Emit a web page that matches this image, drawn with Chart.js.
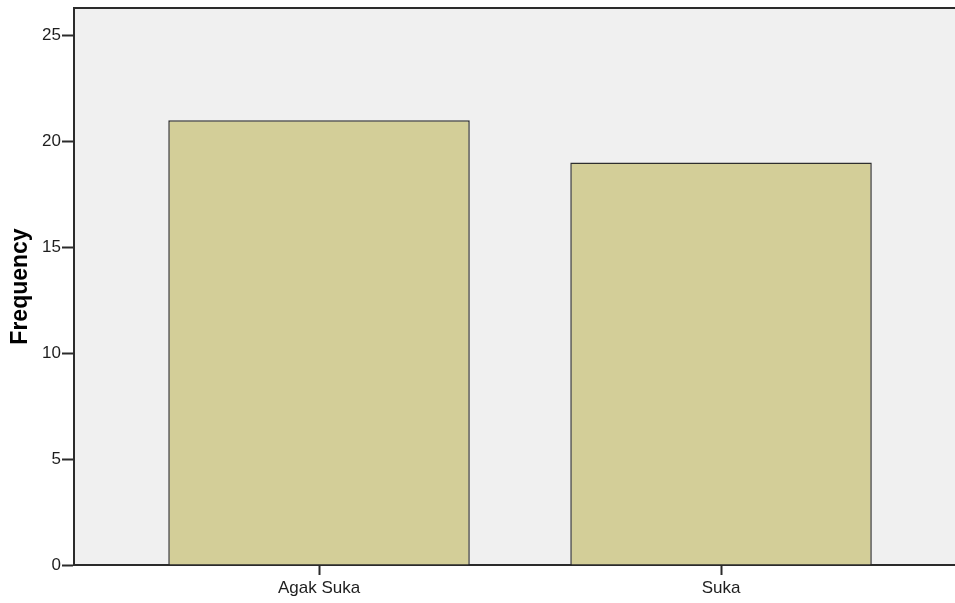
<!DOCTYPE html>
<html>
<head>
<meta charset="utf-8">
<script src="https://cdn.jsdelivr.net/npm/chart.js@4/dist/chart.umd.min.js"></script>
<style>
  html, body { margin: 0; padding: 0; background: #fff; }
  #chart { display: block; }
</style>
</head>
<body>
<canvas id="chart" width="955" height="603"></canvas>
<script>
// Frequency bar chart (SPSS style)
const categories = ["Agak Suka", "Suka"]
const frequencies = [21, 19]
const yTicks = [0, 5, 10, 15, 20, 25]

const axisColor = "#2b2b2b"
const textColor = "#1e1e1e"

// plot background + top frame line
const frame = {
  id: "frame",
  beforeDraw(chart) {
    const { ctx, chartArea: a } = chart
    ctx.save()
    ctx.fillStyle = "#f0f0f0"
    ctx.fillRect(a.left, a.top, a.right - a.left, a.bottom - a.top)
    ctx.restore()
  },
  afterDraw(chart) {
    const { ctx, chartArea: a } = chart
    ctx.save()
    ctx.strokeStyle = axisColor
    ctx.lineWidth = 2
    ctx.beginPath()
    ctx.moveTo(a.left, a.top)
    ctx.lineTo(a.right, a.top)
    ctx.stroke()
    ctx.restore()
  },
}

new Chart(document.getElementById("chart"), {
  type: "bar",
  data: {
    datasets: [{
      data: frequencies.map((v, i) => ({ x: i, y: v })),
      backgroundColor: "#d3ce98",
      borderColor: "#2e2e2e",
      borderWidth: 1.5,
      categoryPercentage: 1,
      barPercentage: 0.75,
    }],
  },
  options: {
    responsive: false,
    animation: false,
    layout: { padding: { top: 8, left: 0, right: 0, bottom: 0 } },
    plugins: { legend: { display: false }, tooltip: { enabled: false } },
    scales: {
      x: {
        type: "linear",
        offset: false,
        min: -0.6095,
        max: 1.582,
        afterBuildTicks: (s) => { s.ticks = categories.map((_, i) => ({ value: i })) },
        afterFit: (s) => { s.height = 38; s.paddingLeft = 0; s.paddingRight = 0 },
        grid: { offset: false, drawOnChartArea: false, tickLength: 10, tickColor: axisColor, tickWidth: 2 },
        border: { color: axisColor, width: 2 },
        ticks: {
          padding: 3,
          maxRotation: 0,
          color: textColor,
          font: { family: "'Liberation Sans', Arial, sans-serif", size: 17 },
          callback: (v) => categories[v] ?? "",
        },
      },
      y: {
        min: 0,
        max: 26.3,
        afterBuildTicks: (s) => { s.ticks = yTicks.map(v => ({ value: v })) },
        afterFit: (s) => { s.width = 74; s.paddingTop = 0; s.paddingBottom = 0 },
        grid: { drawOnChartArea: false, tickLength: 12, tickColor: axisColor, tickWidth: 2 },
        border: { color: axisColor, width: 2 },
        ticks: {
          padding: 1,
          color: textColor,
          font: { family: "'Liberation Sans', Arial, sans-serif", size: 17 },
        },
        title: {
          display: true,
          text: "Frequency",
          color: "#000",
          padding: { top: 7, bottom: 0 },
          font: { family: "'Liberation Sans', Arial, sans-serif", size: 23, weight: "bold" },
        },
      },
    },
  },
  plugins: [frame],
})
</script>
</body>
</html>
